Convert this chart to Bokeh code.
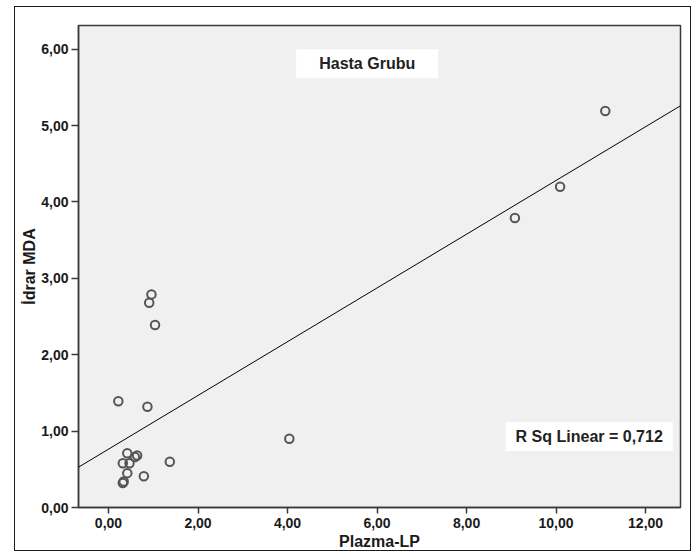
import numpy as np
from bokeh.plotting import figure
from bokeh.models import Range1d, FixedTicker, Label, Slope
from bokeh.embed import file_html
from bokeh.resources import INLINE

# Data
plazma_lp = [0.42, 0.64, 0.59, 0.32, 0.47, 1.37, 0.42, 0.79, 0.34, 0.32,
             0.96, 0.91, 1.04, 0.22, 0.87, 4.04, 9.08, 10.09, 11.10]
idrar_mda = [0.71, 0.68, 0.66, 0.58, 0.58, 0.60, 0.45, 0.41, 0.34, 0.32,
             2.79, 2.68, 2.39, 1.39, 1.32, 0.90, 3.79, 4.20, 5.19]

x_ticks = [0, 2, 4, 6, 8, 10, 12]
x_tick_labels = ["0,00", "2,00", "4,00", "6,00", "8,00", "10,00", "12,00"]
y_ticks = [0, 1, 2, 3, 4, 5, 6]
y_tick_labels = ["0,00", "1,00", "2,00", "3,00", "4,00", "5,00", "6,00"]

title_text = "Hasta Grubu"
r2_text = "R Sq Linear = 0,712"
x_label = "Plazma-LP"
y_label = "İdrar MDA"

FONT = "Liberation Sans, Arial, sans-serif"

p = figure(width=677, height=545, output_backend="svg", toolbar_location=None,
           x_range=Range1d(-0.67, 12.78), y_range=Range1d(0, 6.31),
           min_border_left=63, min_border_right=12, min_border_top=18,
           min_border_bottom=43)
p.margin = (6, 0, 0, 14)
p.styles = {"border": "1px solid #1a1a1a", "box-sizing": "border-box"}

p.background_fill_color = "#f0f0f0"
p.border_fill_color = "white"
p.outline_line_color = "#3a3a3a"
p.outline_line_width = 1.5
p.xgrid.visible = False
p.ygrid.visible = False

for ax in (p.xaxis[0], p.yaxis[0]):
    ax.axis_line_color = "#3a3a3a"
    ax.axis_line_width = 1.5
    ax.major_tick_line_color = "#3a3a3a"
    ax.major_tick_line_width = 1.5
    ax.major_tick_out = 6
    ax.major_tick_in = 0
    ax.minor_tick_line_color = None
    ax.major_label_text_font = FONT
    ax.major_label_text_font_style = "bold"
    ax.major_label_text_font_size = "14px"
    ax.major_label_text_color = "#1a1a1a"
    ax.axis_label_text_font = FONT
    ax.axis_label_text_font_style = "bold"
    ax.axis_label_text_font_size = "16px"
    ax.axis_label_text_color = "#1a1a1a"

p.xaxis.ticker = FixedTicker(ticks=x_ticks)
p.xaxis.major_label_overrides = {t: l for t, l in zip(x_ticks, x_tick_labels)}
p.yaxis.ticker = FixedTicker(ticks=y_ticks)
p.yaxis.major_label_overrides = {t: l for t, l in zip(y_ticks, y_tick_labels)}
p.xaxis.axis_label = x_label
p.yaxis.axis_label = y_label
p.xaxis.major_label_standoff = 4
p.xaxis.axis_label_standoff = 2
p.yaxis.major_tick_out = 7
p.yaxis.major_label_standoff = 3
p.yaxis.axis_label_standoff = 0

# Linear fit from the data
slope, intercept = np.polyfit(plazma_lp, idrar_mda, 1)
p.add_layout(Slope(gradient=slope, y_intercept=intercept,
                   line_color="black", line_width=1))

p.scatter(plazma_lp, idrar_mda, marker="circle", size=8.5,
          fill_color=None, line_color="#555555", line_width=2)

p.add_layout(Label(x=5.78, y=5.81, text=title_text, text_align="center",
                   text_baseline="middle", text_font=FONT, text_font_style="bold",
                   text_font_size="16px", text_color="#222222",
                   background_fill_color="white", padding=(23, 6)))
p.add_layout(Label(x=10.74, y=0.93, text=r2_text, text_align="center",
                   text_baseline="middle", text_font=FONT, text_font_style="bold",
                   text_font_size="16px", text_color="#222222",
                   background_fill_color="white", padding=(10, 6)))

open("out.html", "w").write(file_html(p, INLINE))
